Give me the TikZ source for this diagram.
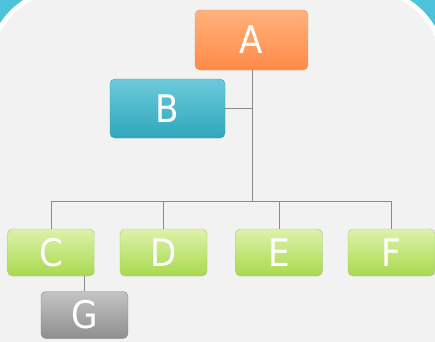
\documentclass[tikz,border=0pt]{standalone}
\usepackage{fontspec}
\newfontfamily\boxfont{DejaVu Sans Condensed}
\definecolor{frame}{HTML}{4CC3DA}
\definecolor{paper}{HTML}{F2F2F2}
\definecolor{link}{HTML}{8C8C8C}
\definecolor{orangetop}{HTML}{FFB27C}
\definecolor{orangebot}{HTML}{FF8A48}
\definecolor{orangeline}{HTML}{E4935E}
\definecolor{tealtop}{HTML}{6CCBDB}
\definecolor{tealbot}{HTML}{2FA6BD}
\definecolor{tealline}{HTML}{3A9CB0}
\definecolor{greentop}{HTML}{DDF2A8}
\definecolor{greenbot}{HTML}{A8D94E}
\definecolor{greenline}{HTML}{A3C877}
\definecolor{graytop}{HTML}{C4C4C4}
\definecolor{graybot}{HTML}{8E8E8E}
\begin{document}
\begin{tikzpicture}[x=1pt, y=-1pt,
  box/.style={draw, rounded corners=5pt, inner sep=0pt, text=white,
    font=\boxfont\fontsize{38}{38}\selectfont, minimum width=87pt, minimum height=47pt},
  orange box/.style={box, draw=orangeline, top color=orangetop, bottom color=orangebot, minimum width=113pt, minimum height=60pt},
  teal box/.style={box, draw=tealline, top color=tealtop, bottom color=tealbot, minimum width=115pt, minimum height=59pt},
  green box/.style={box, draw=greenline, top color=greentop, bottom color=greenbot},
  gray box/.style={box, draw=gray, top color=graytop, bottom color=graybot},
  line/.style={draw=link, line width=1pt}]
\useasboundingbox (0,0) rectangle (435,341);

% backdrop
\fill[frame] (0,0) rectangle (435,341);
\fill[white] [rounded corners=80pt] (-13,-13) rectangle (446,420);
\fill[paper] [rounded corners=75pt] (-8,-8) rectangle (441,420);

\node[orange box] (A) at (251.5,40) {A};
\node[teal box] (B) at (167.5,108.5) {B};
\node[green box] (C) at (51,252.5) {C};
\node[green box] (D) at (163.5,252.5) {D};
\node[green box] (E) at (279,252.5) {E};
\node[green box] (F) at (391.5,252.5) {F};
\node[gray box] (G) at (84.5,315) {G};

\coordinate (bus) at (252.5,201.5);
\draw[line] (A.south -| bus) -- (bus);
\draw[line] (B.east) -- (B.east -| bus);
\draw[line] (C.north |- bus) -- (F.north |- bus);
\foreach \n in {C,D,E,F}
{
    \draw[line] (\n.north |- bus) -- (\n.north);
}
\draw[line] (G.north) -- (G.north |- C.south);
\end{tikzpicture}
\end{document}
